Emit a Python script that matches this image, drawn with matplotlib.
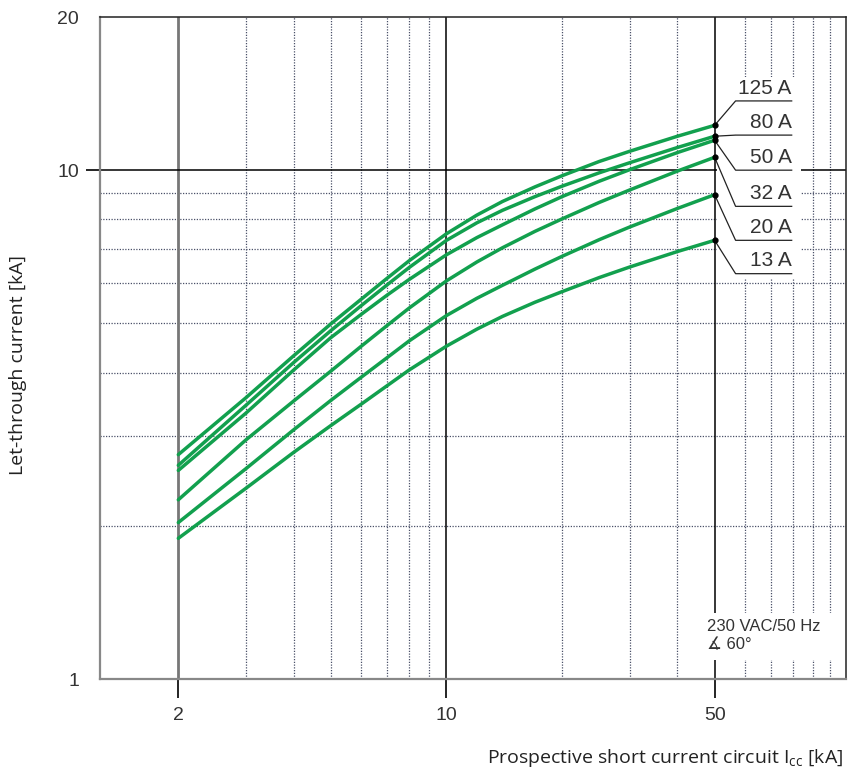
import matplotlib
matplotlib.use("Agg")
import matplotlib.pyplot as plt
from matplotlib.patches import Rectangle
from matplotlib.ticker import NullFormatter

# Courant de court-circuit présumé [kA]
current = [2, 3, 4, 5, 6, 7, 8, 10, 12, 14, 17, 20, 25, 30, 40, 50]

# Courant limité [kA] pour chaque calibre
i_125 = [2.76, 3.57, 4.32, 4.99, 5.58, 6.13, 6.64, 7.50, 8.16, 8.68, 9.27, 9.75, 10.40, 10.89, 11.66, 12.25]
i_80 = [2.63, 3.45, 4.19, 4.84, 5.42, 5.95, 6.44, 7.28, 7.88, 8.34, 8.87, 9.30, 9.88, 10.34, 11.08, 11.66]
i_50 = [2.57, 3.33, 4.05, 4.69, 5.21, 5.68, 6.10, 6.82, 7.37, 7.81, 8.39, 8.87, 9.51, 10.02, 10.83, 11.45]
i_32 = [2.25, 2.95, 3.52, 4.03, 4.51, 4.95, 5.36, 6.06, 6.60, 7.04, 7.58, 8.02, 8.64, 9.14, 9.96, 10.60]
i_20 = [2.03, 2.59, 3.09, 3.53, 3.92, 4.28, 4.62, 5.18, 5.60, 5.94, 6.39, 6.77, 7.30, 7.73, 8.41, 8.95]
i_13 = [1.89, 2.37, 2.79, 3.15, 3.47, 3.77, 4.05, 4.51, 4.87, 5.16, 5.50, 5.77, 6.15, 6.45, 6.92, 7.28]

ratings = ["125 A", "80 A", "50 A", "32 A", "20 A", "13 A"]
series = [i_125, i_80, i_50, i_32, i_20, i_13]

x_major = [2, 10, 50]
x_minor = [3, 4, 5, 6, 7, 8, 9, 20, 30, 40, 60, 70, 80, 90, 100]
y_major = [1, 10, 20]
y_minor = [2, 3, 4, 5, 6, 7, 8, 9]

# position des étiquettes (traits de rappel)
label_y = [13.68, 11.72, 10.0, 8.49, 7.28, 6.26]

green = "#12a04e"
grey_txt = "#333333"

fig = plt.figure(figsize=(8.49, 7.77), dpi=100)
ax = fig.add_axes([100 / 849, 98 / 777, 746 / 849, 662 / 777])
ax.set_xscale("log")
ax.set_yscale("log")
ax.set_xlim(1.25, 110)
ax.set_ylim(1, 20)
ax.set_axisbelow(True)

ax.set_xticks(x_major)
ax.set_xticks(x_minor, minor=True)
ax.set_yticks(y_major)
ax.set_yticks(y_minor, minor=True)
ax.set_xticklabels([str(v) for v in x_major])
ax.set_yticklabels([str(v) for v in y_major])
ax.xaxis.set_minor_formatter(NullFormatter())
ax.yaxis.set_minor_formatter(NullFormatter())
ax.tick_params(which="minor", length=0)
ax.tick_params(which="major", width=1.2, labelsize=14, labelcolor=grey_txt)
ax.tick_params(axis="x", which="major", length=14, pad=6)
ax.tick_params(axis="y", which="major", length=10, pad=5)
for lab in ax.get_xticklabels() + ax.get_yticklabels():
    lab.set_family("Liberation Sans")

# ticks des bornes de l'axe y sans trait
for v, t in zip(y_major, ax.yaxis.get_major_ticks()):
    if v != 10:
        t.tick1line.set_visible(False)
for v, t in zip(x_major, ax.xaxis.get_major_ticks()):
    t.tick1line.set_color("#777777" if v == 2 else "black")

ax.grid(True, which="minor", linestyle=(0, (1, 1.2)), color="#4a5068", linewidth=0.9)
ax.grid(False, which="major")
for v in x_major:
    ax.axvline(v, color="#777777" if v == 2 else "black",
               linewidth=2.0 if v == 2 else 1.1, zorder=0.6)
ax.axhline(10, color="black", linewidth=1.1, zorder=0.6)

for side in ["left", "bottom"]:
    ax.spines[side].set_color("#888888")
    ax.spines[side].set_linewidth(1.6)
for side in ["top", "right"]:
    ax.spines[side].set_color("#222222")
    ax.spines[side].set_linewidth(1.1)

# fonds blancs derrière les étiquettes et la note
ax.add_patch(Rectangle((50.6, 6.15), 83.8 - 50.6, 15.26 - 6.15,
                       facecolor="white", edgecolor="none", zorder=1))
ax.add_patch(Rectangle((47.5, 1.09), 110 - 47.5, 1.35 - 1.09,
                       facecolor="white", edgecolor="none", zorder=1))

for name, vals, ly in zip(ratings, series, label_y):
    ax.plot(current, vals, color=green, linewidth=2.5, zorder=3,
            solid_capstyle="round")
    ax.plot([current[-1]], [vals[-1]], "o", color="black", markersize=3.5, zorder=4)
    ax.plot([current[-1], 56.7, 79.4], [vals[-1], ly, ly], color="#222222",
            linewidth=0.9, zorder=2)
    ax.text(79.4, ly * 1.015, name, ha="right", va="bottom", fontsize=15,
            color=grey_txt, family="Liberation Sans", zorder=5)

ax.text(47.8, 1.215, "230 VAC/50 Hz\n\u2221 60\u00b0", ha="left", va="center",
        fontsize=12, color=grey_txt, family=["Liberation Sans", "DejaVu Sans"],
        linespacing=1.25, zorder=5)

fig.text(843 / 849, 1 - 758 / 777,
         r"Prospective short current circuit I$_\mathregular{cc}$ [kA]",
         ha="right", va="center", fontsize=14, color="#222222", family="Open Sans")
fig.text(18 / 849, 1 - 365 / 777, "Let-through current [kA]", rotation=90,
         ha="center", va="center", fontsize=14, color="#222222", family="Open Sans")

fig.savefig("out.png", dpi=100)
